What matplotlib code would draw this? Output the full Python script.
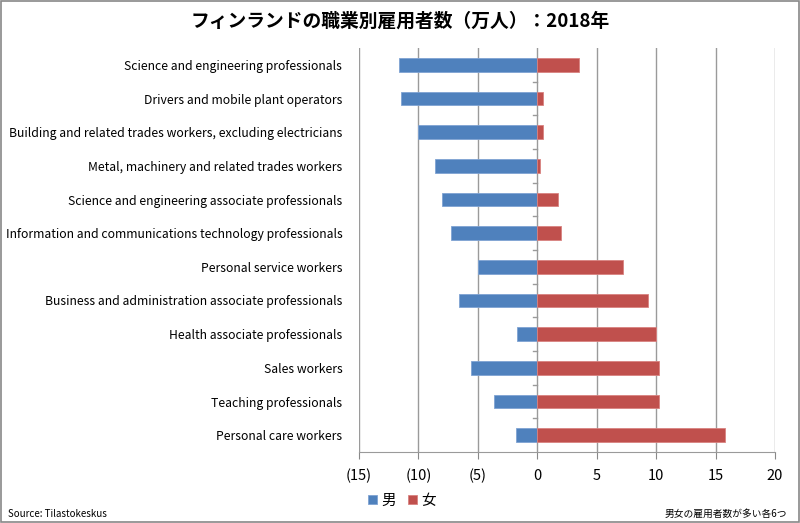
import numpy as np
import matplotlib.pyplot as plt
from matplotlib.patches import Rectangle

plt.rcParams['font.family'] = ['Noto Sans CJK JP', 'DejaVu Sans']

occupations = [
    "Science and engineering professionals",
    "Drivers and mobile plant operators",
    "Building and related trades workers, excluding electricians",
    "Metal, machinery and related trades workers",
    "Science and engineering associate professionals",
    "Information and communications technology professionals",
    "Personal service workers",
    "Business and administration associate professionals",
    "Health associate professionals",
    "Sales workers",
    "Teaching professionals",
    "Personal care workers",
]
# employees in 10,000s
men = [11.6, 11.5, 10.0, 8.6, 8.0, 7.3, 5.0, 6.6, 1.7, 5.6, 3.6, 1.75]
women = [3.5, 0.5, 0.5, 0.2, 1.75, 2.0, 7.2, 9.35, 10.0, 10.25, 10.25, 15.8]
xticks = [-15, -10, -5, 0, 5, 10, 15, 20]

blue = "#4F81BD"
red = "#C0504D"

fig = plt.figure(figsize=(8, 5.23), dpi=100)
ax = fig.add_axes([359 / 800, 1 - 452 / 523, (775 - 359) / 800, (452 - 48) / 523])

y = np.arange(len(occupations))
ax.barh(y, -np.array(men), height=0.4, color=blue, edgecolor="#7FA3D3", linewidth=0.6, label="男", zorder=3)
ax.barh(y, women, height=0.4, color=red, edgecolor="#D98280", linewidth=0.6, label="女", zorder=3)

ax.set_xlim(-15, 20)
ax.set_ylim(len(occupations) - 0.5, -0.5)
ax.set_xticks(xticks)
ax.set_xticklabels([f"({abs(v)})" if v < 0 else str(v) for v in xticks], fontsize=10.5)
ax.set_yticks(y)
ax.set_yticklabels(occupations, fontsize=8.8)
ax.tick_params(axis="y", length=0, pad=12)
ax.tick_params(axis="x", length=5, color="#888888", pad=7)

for v in xticks:
    ax.axvline(v, color="#9A9A9A", linewidth=1.0, zorder=1)
# category separators on the zero axis
for b in np.arange(0.5, len(occupations) - 0.5, 1):
    ax.plot([-0.35, 0], [b, b], color="#9A9A9A", linewidth=1.0, zorder=2)

for s in ["top", "right", "left"]:
    ax.spines[s].set_visible(False)
ax.spines["bottom"].set_color("#9A9A9A")

fig.text(0.5, 1 - 21 / 523, "フィンランドの職業別雇用者数（万人）：2018年", ha="center", va="center",
         fontsize=13.5, fontweight="bold")

fig.legend(loc="center", bbox_to_anchor=(402 / 800, 1 - 501 / 523), ncol=2, frameon=False,
           fontsize=10.5, handlelength=0.6, handleheight=0.6, handletextpad=0.3, columnspacing=0.8)

fig.text(8 / 800, 1 - 514 / 523, "Source: Tilastokeskus", ha="left", va="center", fontsize=7)
fig.text(787 / 800, 1 - 514 / 523, "男女の雇用者数が多い各6つ", ha="right", va="center", fontsize=7)

fig.patches.append(Rectangle((0.001, 0.001), 0.998, 0.997, transform=fig.transFigure,
                             fill=False, edgecolor="#888888", linewidth=1.2))

fig.savefig("out.png", dpi=100)
